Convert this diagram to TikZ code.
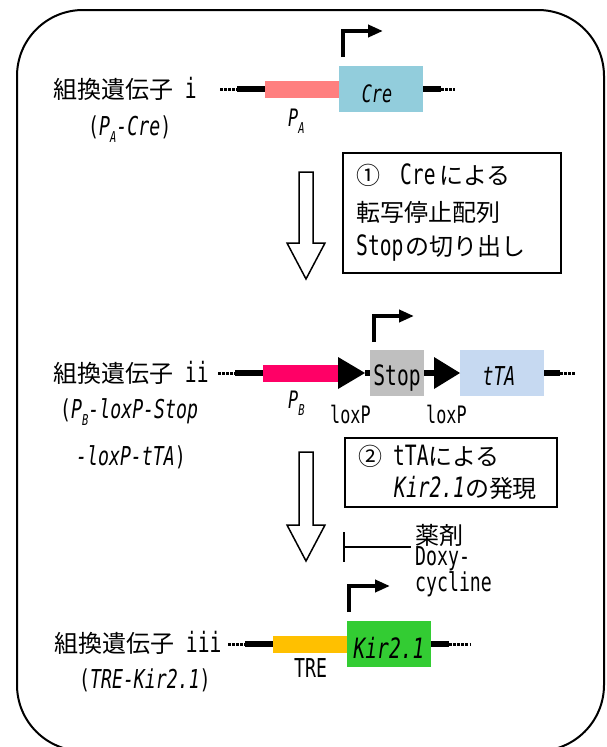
\documentclass[tikz,border=0pt]{standalone}
\usepackage{fontspec}
\setmainfont{DejaVu Sans Mono}[FakeStretch=0.7]
\newfontfamily\jpfont{Noto Sans CJK JP}[Scale=0.857]
\usetikzlibrary{arrows.meta}
\newcommand\J[1]{{\jpfont #1}}
\newcommand\sbs[1]{\raisebox{-0.3em}{\fontsize{15}{15}\selectfont #1}}
\definecolor{paPink}{HTML}{FF7F7F}
\definecolor{creBlue}{HTML}{92CDDC}
\definecolor{pbPink}{HTML}{FF0066}
\definecolor{stopGray}{HTML}{BFBFBF}
\definecolor{ttaBlue}{HTML}{C6D9F1}
\definecolor{treOrange}{HTML}{FFC000}
\definecolor{kirGreen}{HTML}{33CC33}
\begin{document}
\begin{tikzpicture}[x=1pt,y=-1pt,
  font=\fontsize{28}{34}\selectfont,
  bar/.style={inner sep=0pt, minimum height=17pt},
  gbox/.style={inner sep=0pt, minimum width=84pt, minimum height=46pt},
  txt/.style={inner sep=0pt, anchor=base west},
  thickline/.style={line width=6pt},
  dotline/.style={line width=3pt, dash pattern=on 2.5pt off 1.6pt},
  prom/.style={line width=4pt, line join=miter, -{Triangle[length=15pt,width=12pt]}},
  hollow/.style={line width=1.5pt, line join=miter},
  stepbox/.style={draw, line width=1.5pt, inner sep=0pt}]
\useasboundingbox (0,0) rectangle (606,747);
\clip (0,0) rectangle (606,747);
\draw[line width=2pt, rounded corners=66pt] (17,10) rectangle (604,751);

% ---------- Row 1 ----------
\node[txt] (lab1) at (53,98) {\J{組換遺伝子} i};
\node[txt, font=\fontsize{26}{30}\selectfont] (lab1b) at (88,135) {(\textit{P\sbs{A}-Cre})};
\node[bar, fill=paPink, minimum width=74pt] (pa) at (302,89) {};
\node[gbox, fill=creBlue] (cre) at (381,89) {};
\node[inner sep=0pt, anchor=base, font=\fontsize{24}{28}\selectfont\itshape] (cretxt) at (377,102) {Cre};
\node[txt, font=\fontsize{24}{28}\selectfont\itshape] (palab) at (288,126) {P\sbs{A}};
\coordinate (r1d) at (220,89);
\coordinate (r1t) at (237,89);
\coordinate (r1u) at (441,89);
\coordinate (r1e) at (455,89);
\draw[dotline] (r1d) -- (r1t);
\draw[thickline] (r1t) -- (pa.west);
\draw[thickline] (cre.east) -- (r1u);
\draw[dotline] (r1u) -- (r1e);
\coordinate (p1a) at (343,57);
\coordinate (p1b) at (383,31);
\draw[prom] (p1a) |- (p1b);

% ---------- Step 1 ----------
\draw[hollow] (299,172) -- (313,172) -- (313,243) -- (325,243) -- (306,279) -- (287,243) -- (299,243) -- cycle;
\node[stepbox, minimum width=218pt, minimum height=120pt] (box1) at (452,213) {};
\node[txt] (b1l1) at (356,184) {\J{①}\hspace{20pt}Cre\hspace{4pt}\J{による}};
\node[txt] (b1l2) at (356,221) {\J{転写停止配列}};
\node[txt] (b1l3) at (356,255) {Stop\hspace{2pt}\J{の切り出し}};

% ---------- Row 2 ----------
\node[txt] (lab2) at (53,382) {\J{組換遺伝子} ii};
\node[txt, font=\fontsize{26}{30}\selectfont] (lab2b) at (60,418) {(\textit{P\sbs{B}-loxP-Stop}};
\node[txt, font=\fontsize{26}{30}\selectfont] (lab2c) at (76,465) {\textit{-loxP-tTA})};
\node[bar, fill=pbPink, minimum width=75pt] (pb) at (300.5,373) {};
\node[gbox, fill=stopGray, minimum width=54pt] (stop) at (397,373) {};
\node[gbox, fill=ttaBlue] (tta) at (502,373) {};
\node[inner sep=0pt, anchor=base] (stoptxt) at (397,385) {Stop};
\node[inner sep=0pt, anchor=base, font=\fontsize{26}{30}\selectfont\itshape] (ttatxt) at (499,385) {tTA};
\node[txt, font=\fontsize{24}{28}\selectfont\itshape] (pblab) at (288,408) {P\sbs{B}};
\node[txt, font=\fontsize{24}{28}\selectfont] (lox1) at (330,423) {loxP};
\node[txt, font=\fontsize{24}{28}\selectfont] (lox2) at (426,423) {loxP};
\coordinate (t1p) at (365,373);
\coordinate (t2b) at (434,373);
\coordinate (t2p) at (460,373);
\fill (338,357) -- (t1p) -- (338,389) -- cycle;
\fill (t2b) ++(0,-16) -- (t2p) -- (434,389) -- cycle;
\coordinate (r2d) at (218,373);
\coordinate (r2t) at (235,373);
\coordinate (r2u) at (560,373);
\coordinate (r2e) at (575,373);
\draw[dotline] (r2d) -- (r2t);
\draw[thickline] (r2t) -- (pb.west);
\draw[thickline] (t1p) -- (stop.west);
\draw[thickline] (stop.east) -- (t2b);
\draw[thickline] (tta.east) -- (r2u);
\draw[dotline] (r2u) -- (r2e);
\coordinate (p2a) at (374,342);
\coordinate (p2b) at (414,316);
\draw[prom] (p2a) |- (p2b);

% ---------- Step 2 ----------
\draw[hollow] (299,452) -- (313,452) -- (313,525) -- (325,525) -- (306,561) -- (287,525) -- (299,525) -- cycle;
\node[stepbox, minimum width=212pt, minimum height=69pt] (box2) at (451,472.5) {};
\node[txt] (b2l1) at (358,465) {\J{②}\hspace{11pt}tTA\J{による}};
\node[txt] (b2l2) at (394,497) {\textit{Kir2.1}\J{の発現}};
\coordinate (inhA) at (344,532);
\coordinate (inhB) at (344,562);
\coordinate (inhM) at (344,547);
\coordinate (inhE) at (411,547);
\draw[line width=1.3pt] (inhA) -- (inhB);
\draw[line width=1.3pt] (inhM) -- (inhE);
\node[txt] (drug1) at (415,544) {\J{薬剤}};
\node[txt, font=\fontsize{26}{30}\selectfont] (drug2) at (415,565) {Doxy-};
\node[txt, font=\fontsize{26}{30}\selectfont] (drug3) at (415,591) {cycline};

% ---------- Row 3 ----------
\node[txt] (lab3) at (54,652) {\J{組換遺伝子} iii};
\node[txt, font=\fontsize{26}{30}\selectfont] (lab3b) at (79,688) {(\textit{TRE-Kir2.1})};
\node[bar, fill=treOrange, minimum width=74pt] (tre) at (310,644) {};
\node[gbox, fill=kirGreen] (kir) at (389,644) {};
\node[inner sep=0pt, anchor=base, font=\fontsize{28}{32}\selectfont\itshape] (kirtxt) at (389,658) {Kir2.1};
\node[txt, font=\fontsize{26}{30}\selectfont] (trelab) at (294,677) {TRE};
\coordinate (r3d) at (228,644);
\coordinate (r3t) at (245,644);
\coordinate (r3u) at (449,644);
\coordinate (r3e) at (471,644);
\draw[dotline] (r3d) -- (r3t);
\draw[thickline] (r3t) -- (tre.west);
\draw[thickline] (kir.east) -- (r3u);
\draw[dotline] (r3u) -- (r3e);
\coordinate (p3a) at (349,612);
\coordinate (p3b) at (390,586);
\draw[prom] (p3a) |- (p3b);
\end{tikzpicture}
\end{document}
